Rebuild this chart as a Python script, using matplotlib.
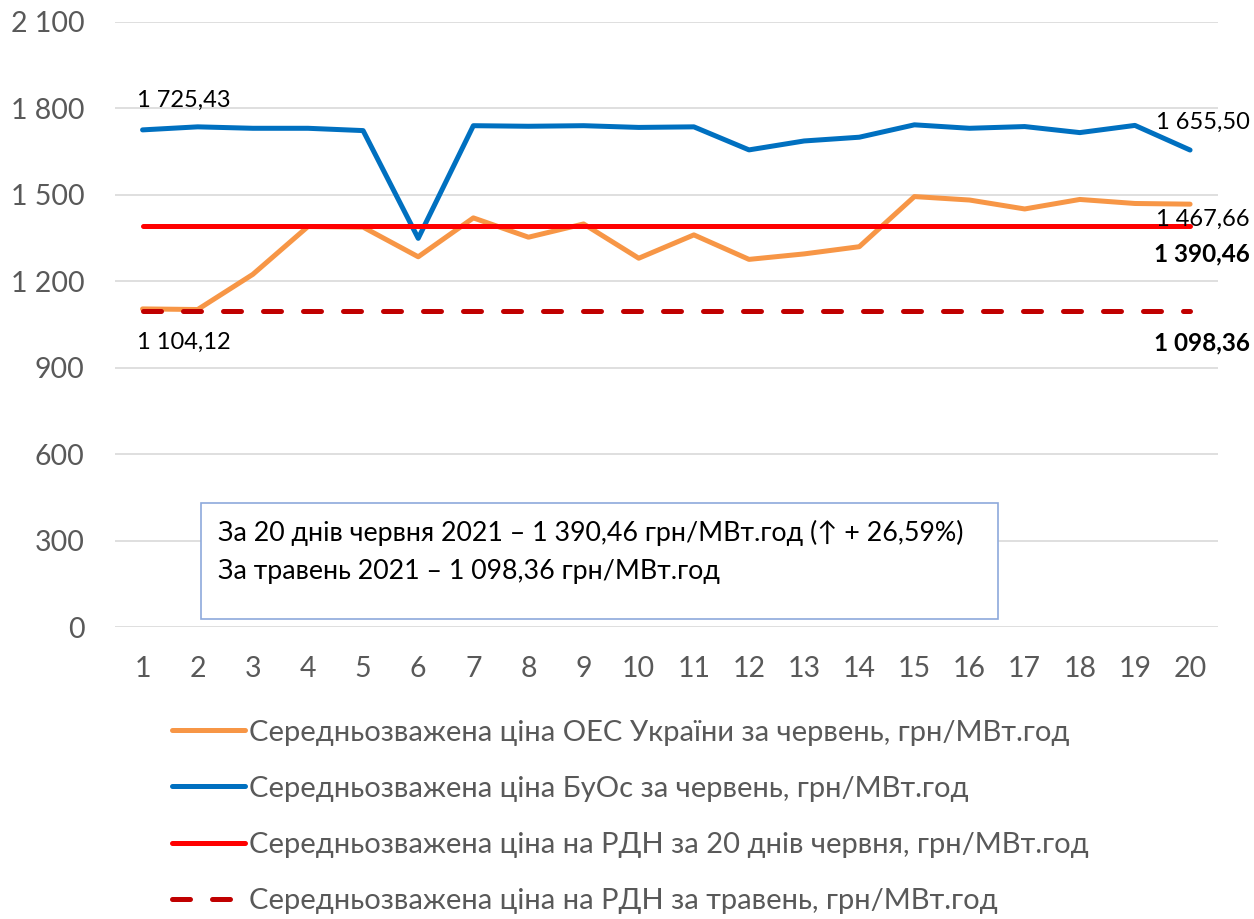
import matplotlib
matplotlib.use('Agg')
from matplotlib import pyplot as plt
from matplotlib.ticker import FuncFormatter
import numpy as np

plt.rcParams['font.family'] = ['Lato', 'DejaVu Sans']

# Data
days = list(range(1, 21))
oes_price = [1104.12, 1102, 1224, 1390, 1388, 1285, 1420, 1353, 1399, 1280,
             1361, 1276, 1295, 1320, 1494, 1482, 1451, 1484, 1470, 1467.66]
buos_price = [1725.43, 1736, 1731, 1731, 1723, 1349, 1740, 1738, 1740, 1734,
              1736, 1656, 1687, 1700, 1743, 1731, 1737, 1716, 1741, 1655.50]
rdn_june = 1390.46
rdn_may = 1098.36

labels = ['Середньозважена ціна ОЕС України за червень, грн/МВт.год',
          'Середньозважена ціна БуОс за червень, грн/МВт.год',
          'Середньозважена ціна на РДН за 20 днів червня, грн/МВт.год',
          'Середньозважена ціна на РДН за травень, грн/МВт.год']
box_lines = ['За 20 днів червня 2021 – 1 390,46 грн/МВт.год (↑ + 26,59%)',
             'За травень 2021 – 1 098,36 грн/МВт.год']


def fmt(v, dec=2):
    s = f'{v:,.{dec}f}'.replace(',', ' ').replace('.', ',')
    return s


fig = plt.figure(figsize=(12.54, 9.19), dpi=100)
ax = fig.add_axes([0.0917, 0.3177, 0.8793, 0.6584])

ax.plot(days, oes_price, color='#F79646', lw=3.6, label=labels[0], solid_capstyle='round')
ax.plot(days, buos_price, color='#0070C0', lw=3.6, label=labels[1], solid_capstyle='round')
ax.plot(days, [rdn_june] * len(days), color='#FF0000', lw=3.6, label=labels[2], solid_capstyle='round')
ax.plot(days, [rdn_may] * len(days), color='#C00000', lw=3.6, label=labels[3],
        dashes=(3.6, 4.4), dash_capstyle='round')

ax.set_xlim(0.5, 20.5)
ax.set_ylim(0, 2100)
ax.set_yticks(np.arange(0, 2101, 300))
ax.set_xticks(days)
ax.yaxis.set_major_formatter(FuncFormatter(lambda v, p: fmt(v, 0)))
ax.grid(axis='y', color='#D9D9D9', lw=1.2)
ax.set_axisbelow(True)
for s in ax.spines.values():
    s.set_visible(False)
ax.tick_params(length=0, labelsize=20.5, colors='#595959')
ax.tick_params(axis='y', pad=22)
ax.tick_params(axis='x', pad=21)

# data labels
ax.annotate(fmt(buos_price[0]), (days[0], buos_price[0]), xytext=(-4, 21),
            textcoords='offset points', fontsize=17, ha='left', va='center')
ax.annotate(fmt(buos_price[-1]), (days[-1], buos_price[-1]), xytext=(43, 20),
            textcoords='offset points', fontsize=17, ha='right', va='center')
ax.annotate(fmt(oes_price[0]), (days[0], oes_price[0]), xytext=(-4, -24),
            textcoords='offset points', fontsize=17, ha='left', va='center')
ax.annotate(fmt(oes_price[-1]), (days[-1], oes_price[-1]), xytext=(43, -11),
            textcoords='offset points', fontsize=17, ha='right', va='center')
ax.annotate(fmt(rdn_june), (days[-1], rdn_june), xytext=(43, -19.5),
            textcoords='offset points', fontsize=17.5, fontweight='bold', ha='right', va='center')
ax.annotate(fmt(rdn_may), (days[-1], rdn_may), xytext=(43, -23),
            textcoords='offset points', fontsize=17.5, fontweight='bold', ha='right', va='center')

# info box
box = plt.Rectangle((201 / 1254, 1 - 619 / 919), 797 / 1254, 116 / 919, transform=fig.transFigure,
                    facecolor='white', edgecolor='#8EA9DB', lw=1.2)
fig.patches.append(box)
fig.text(218 / 1254, 1 - 533 / 919, box_lines[0], fontsize=19.3, va='center', ha='left')
fig.text(218 / 1254, 1 - 572 / 919, box_lines[1], fontsize=19.3, va='center', ha='left')

fig.legend(loc='upper left', bbox_to_anchor=(160 / 1254, 1 - 708 / 919), frameon=False,
           fontsize=21, labelcolor='#595959', handlelength=2.5, handletextpad=0.15,
           labelspacing=1.03, borderaxespad=0)

fig.savefig('out.png', dpi=100)
